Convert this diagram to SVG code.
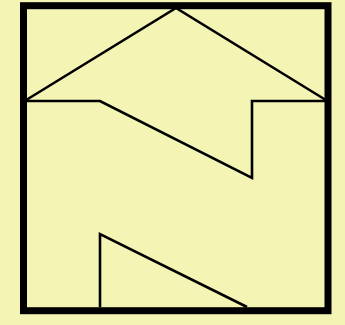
<svg xmlns="http://www.w3.org/2000/svg" width="345" height="325" viewBox="0 0 345 325">
<style>
.frame{fill:none;stroke:#000;stroke-width:7;stroke-linejoin:miter}
.ln{fill:none;stroke:#000;stroke-width:2.6;stroke-linejoin:miter;stroke-linecap:butt}
</style>
<rect x="0" y="0" width="345" height="325" fill="#f4f4b4"/>
<g id="roof"><polyline class="ln" points="27,99.5 176,8 325,99.5"/></g>
<g id="zigzag"><polyline class="ln" points="27,101 100,101 252,178 252,101 325,101"/></g>
<g id="bottom-wedge"><polyline class="ln" points="100,307 100,234 247,307"/></g>
<g id="frame"><rect class="frame" x="23.5" y="5.7" width="304.5" height="305"/></g>
</svg>
